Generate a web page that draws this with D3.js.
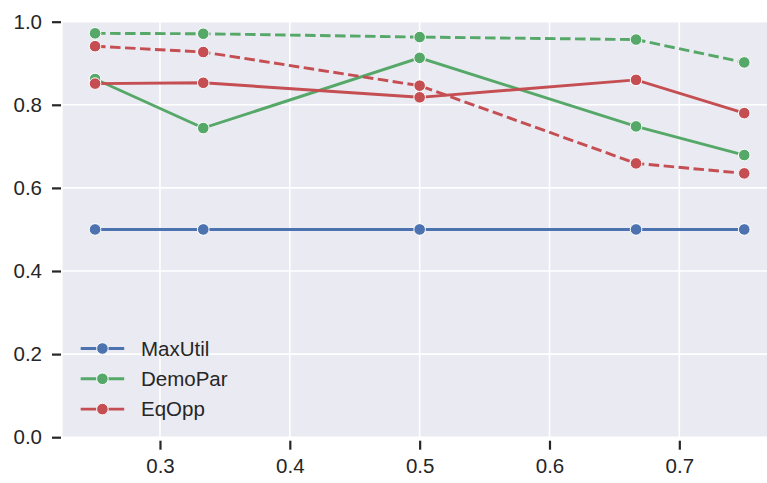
<!DOCTYPE html>
<html>
<head>
<meta charset="utf-8">
<script src="https://cdn.jsdelivr.net/npm/d3@7"></script>
<style>
    body { margin: 0; background: #fff; }
    svg { display: block; font-family: Arial, "Liberation Sans", sans-serif; }
</style>
</head>
<body>
<div id="chart"></div>
<script>
var xValues = [0.25, 1 / 3, 0.5, 2 / 3, 0.75];
var xTicks = [0.3, 0.4, 0.5, 0.6, 0.7];
var yTicks = [0.0, 0.2, 0.4, 0.6, 0.8, 1.0];
var methods = ["MaxUtil", "DemoPar", "EqOpp"];
var colors = ["#4c72b0", "#55a868", "#c44e52"];

// solid = first setting, dashed = second setting
var maxUtilSolid = [0.5, 0.5, 0.5, 0.5, 0.5];
var maxUtilDashed = [0.5, 0.5, 0.5, 0.5, 0.5];
var demoParSolid = [0.862, 0.744, 0.913, 0.748, 0.679];
var demoParDashed = [0.972, 0.971, 0.963, 0.957, 0.902];
var eqOppSolid = [0.851, 0.853, 0.818, 0.860, 0.780];
var eqOppDashed = [0.941, 0.927, 0.846, 0.659, 0.635];

var series = [
    { key: "MaxUtil", dashed: false, values: maxUtilSolid },
    { key: "MaxUtil", dashed: true, values: maxUtilDashed },
    { key: "DemoPar", dashed: false, values: demoParSolid },
    { key: "DemoPar", dashed: true, values: demoParDashed },
    { key: "EqOpp", dashed: false, values: eqOppSolid },
    { key: "EqOpp", dashed: true, values: eqOppDashed },
];

function makeChart() {
    var width = 767,
        height = 483;

    var svg = d3
        .select("#chart")
        .append("svg")
        .attr("width", width)
        .attr("height", height);

    var x = d3.scaleLinear().domain([0.225, 0.775]).range([62.6, 776.7]);
    var y = d3.scaleLinear().domain([0, 1]).range([437.2, 21.7]);
    var color = d3.scaleOrdinal().domain(methods).range(colors);

    var left = x.range()[0],
        right = x.range()[1],
        top = y.range()[1],
        bottom = y.range()[0];

    svg.append("rect")
        .attr("x", left)
        .attr("y", top)
        .attr("width", right - left)
        .attr("height", bottom - top)
        .attr("fill", "#eaeaf2");

    // grid
    svg.append("g")
        .selectAll("line")
        .data(xTicks)
        .enter()
        .append("line")
        .attr("x1", (d) => x(d))
        .attr("x2", (d) => x(d))
        .attr("y1", top)
        .attr("y2", bottom)
        .attr("stroke", "#fff")
        .attr("stroke-width", 1.6);
    svg.append("g")
        .selectAll("line")
        .data(yTicks)
        .enter()
        .append("line")
        .attr("x1", left)
        .attr("x2", right)
        .attr("y1", (d) => y(d))
        .attr("y2", (d) => y(d))
        .attr("stroke", "#fff")
        .attr("stroke-width", 1.6);

    // axes, ticks sit a little off the plot area
    var xAxis = svg
        .append("g")
        .attr("transform", "translate(0," + (bottom + 3.5) + ")")
        .call(d3.axisBottom(x).tickValues(xTicks).tickSize(9).tickPadding(9).tickFormat(d3.format(".1f")));
    var yAxis = svg
        .append("g")
        .attr("transform", "translate(" + (left - 1.6) + ",0)")
        .call(d3.axisLeft(y).tickValues(yTicks).tickSize(9).tickPadding(10).tickFormat(d3.format(".1f")));

    [xAxis, yAxis].forEach((a) => {
        a.select(".domain").remove();
        a.selectAll(".tick line").attr("stroke", "#262626").attr("stroke-width", 2.2);
        a.selectAll(".tick text")
            .attr("fill", "#262626")
            .style("font-size", "20.5px")
            .style("font-family", "Arial, 'Liberation Sans', sans-serif");
    });

    var line = d3
        .line()
        .x((d, i) => x(xValues[i]))
        .y((d) => y(d));

    var groups = svg
        .append("g")
        .selectAll("g.series")
        .data(series)
        .enter()
        .append("g")
        .attr("class", "series");

    groups
        .append("path")
        .attr("fill", "none")
        .attr("stroke", (d) => color(d.key))
        .attr("stroke-width", 2.9)
        .attr("stroke-dasharray", (d) => (d.dashed ? "10.5,4.5" : null))
        .attr("d", (d) => line(d.values));

    groups
        .selectAll("circle")
        .data((d) => d.values.map((v, i) => ({ key: d.key, x: xValues[i], v: v })))
        .enter()
        .append("circle")
        .attr("cx", (d) => x(d.x))
        .attr("cy", (d) => y(d.v))
        .attr("r", 5.8)
        .attr("fill", (d) => color(d.key))
        .attr("stroke", "#fff")
        .attr("stroke-width", 1);

    // legend, no frame
    var legend = svg
        .append("g")
        .selectAll("g")
        .data(methods)
        .enter()
        .append("g")
        .attr("transform", (d, i) => "translate(80.7," + (348.5 + i * 30.3) + ")");

    legend
        .append("line")
        .attr("x1", 0)
        .attr("x2", 43.5)
        .attr("stroke", (d) => color(d))
        .attr("stroke-width", 2.9);
    legend
        .append("circle")
        .attr("cx", 21.7)
        .attr("r", 5.8)
        .attr("fill", (d) => color(d))
        .attr("stroke", "#fff")
        .attr("stroke-width", 1);
    legend
        .append("text")
        .attr("x", 60.3)
        .attr("dy", "0.35em")
        .attr("fill", "#262626")
        .style("font-size", "20.5px")
        .text((d) => d);
}

makeChart();
</script>
</body>
</html>
